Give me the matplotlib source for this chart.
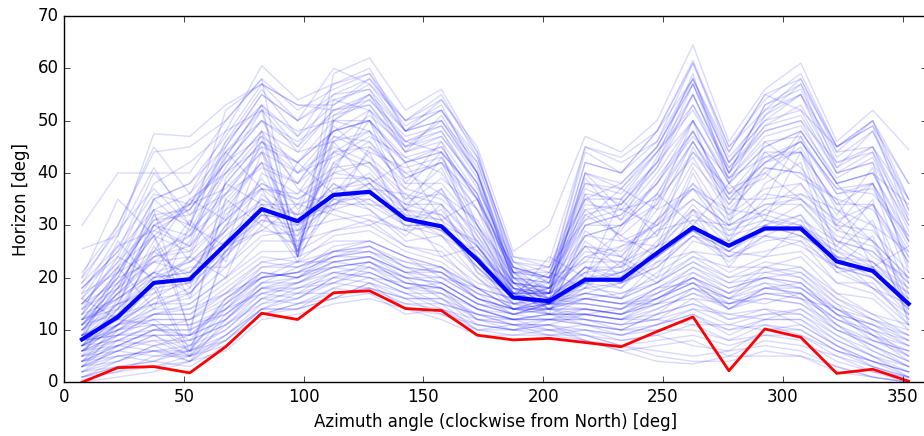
import numpy as np
import matplotlib
matplotlib.use("Agg")
import matplotlib.pyplot as plt

# azimuth sectors (centre of each 15 deg bin)
azimuth = np.arange(7.5, 360, 15)

# median horizon (thick blue) and the site of interest (red)
median_horizon = [8.2, 12.5, 19.0, 19.7, 26.4, 33.1, 30.8, 35.8, 36.4, 31.2, 29.8, 23.4,
                  16.2, 15.5, 19.6, 19.6, 24.7, 29.6, 26.1, 29.4, 29.4, 23.1, 21.3, 15.0]
site_horizon = [0.0, 2.8, 3.0, 1.8, 6.8, 13.2, 12.0, 17.1, 17.5, 14.1, 13.7, 9.0,
                8.1, 8.4, 7.6, 6.8, 9.7, 12.5, 2.2, 10.2, 8.6, 1.7, 2.5, 0.2]

# individual horizon profiles (faint lines), estimated by eye
low_sites = [
    [0, 1, 2, 4, 6, 12, 13, 15, 16, 14, 12, 9, 9, 10, 9, 7, 6, 5, 6, 7, 6, 3, 1, 0],
    [1, 3, 3, 5, 9, 14, 14, 18, 17, 15, 15, 10, 10, 9, 8, 7, 8, 9, 7, 9, 8, 4, 2, 0],
    [2, 4, 6, 5, 8, 13, 15, 16, 19, 17, 14, 12, 11, 11, 9, 8, 9, 7, 6, 10, 11, 7, 3, 1],
    [3, 6, 5, 6, 10, 16, 17, 19, 18, 16, 16, 11, 10, 12, 11, 10, 10, 12, 10, 11, 9, 6, 4, 2],
    [1, 4, 7, 4, 9, 15, 16, 20, 21, 18, 15, 13, 12, 10, 10, 9, 11, 13, 9, 12, 12, 8, 5, 1],
    [4, 5, 6, 7, 12, 17, 16, 19, 22, 19, 18, 12, 11, 12, 12, 11, 12, 11, 11, 13, 13, 9, 6, 3],
    [2, 7, 8, 8, 11, 15, 18, 21, 20, 17, 17, 14, 12, 13, 11, 10, 13, 15, 12, 14, 11, 7, 4, 2],
    [5, 6, 9, 5, 13, 18, 18, 20, 23, 20, 16, 13, 11, 11, 13, 12, 12, 14, 13, 12, 14, 10, 7, 4],
    [3, 8, 7, 9, 12, 19, 20, 22, 21, 18, 19, 15, 13, 14, 12, 11, 14, 17, 14, 16, 15, 11, 6, 3],
    [6, 7, 10, 10, 14, 17, 19, 23, 24, 21, 18, 14, 12, 12, 14, 13, 15, 16, 15, 17, 16, 10, 8, 5],
    [4, 9, 9, 6, 15, 20, 21, 22, 23, 20, 20, 16, 14, 13, 13, 12, 13, 18, 16, 15, 17, 12, 9, 4],
    [7, 8, 11, 11, 13, 19, 22, 24, 25, 22, 19, 15, 13, 15, 15, 14, 16, 19, 14, 18, 18, 13, 8, 6],
    [5, 10, 12, 8, 16, 21, 20, 25, 26, 23, 21, 17, 15, 14, 14, 13, 17, 20, 17, 19, 16, 14, 10, 5],
    [8, 9, 10, 12, 15, 22, 23, 23, 24, 21, 22, 16, 13, 14, 16, 15, 15, 21, 18, 20, 19, 13, 11, 7],
    [6, 11, 13, 13, 17, 20, 21, 26, 27, 24, 20, 18, 14, 16, 15, 14, 18, 19, 16, 21, 20, 15, 9, 6],
    [2, 3, 4, 6, 8, 14, 17, 17, 18, 16, 13, 10, 11, 9, 10, 9, 11, 14, 11, 10, 10, 6, 3, 0.5],
    [1, 2, 5, 5, 7, 13, 14, 16, 17, 13, 14, 11, 10, 11, 8, 6, 7, 8, 5, 8, 7, 5, 2, 1],
    [3, 5, 4, 7, 10, 16, 15, 18, 20, 17, 15, 13, 11, 10, 11, 9, 10, 10, 8, 11, 10, 6, 4, 1],
    [4, 6, 8, 5, 11, 16, 19, 21, 20, 19, 17, 12, 12, 13, 12, 11, 12, 16, 12, 13, 14, 9, 5, 2],
    [7, 10, 11, 11, 14, 21, 20, 24, 26, 22, 21, 16, 14, 14, 13, 14, 17, 22, 19, 20, 18, 14, 10, 7],
    [9, 11, 12, 12, 16, 20, 23, 25, 25, 23, 22, 17, 13, 15, 16, 15, 16, 20, 17, 22, 21, 16, 12, 8],
    [5, 7, 6, 4, 12, 18, 17, 21, 22, 18, 18, 14, 12, 12, 12, 10, 13, 15, 13, 14, 13, 8, 5, 3],
    [2, 5, 6, 6, 9, 14, 16, 20, 19, 16, 16, 12, 10, 11, 10, 8, 9, 11, 8, 9, 9, 5, 3, 1],
    [3, 4, 7, 8, 11, 17, 18, 19, 21, 18, 17, 13, 12, 12, 11, 10, 11, 13, 10, 12, 12, 7, 4, 2],
    [6, 8, 9, 9, 12, 18, 19, 22, 23, 19, 18, 14, 12, 13, 13, 12, 14, 17, 15, 16, 15, 10, 7, 4],
    [1, 3, 4, 3, 7, 13, 15, 17, 18, 15, 14, 10, 9, 9, 9, 7, 5, 4, 4, 6, 5, 3, 1, 0],
    [0.5, 2, 3, 4, 8, 14, 14, 16, 19, 14, 13, 11, 10, 10, 8, 6, 4, 3.5, 5, 5, 5, 2, 1, 0],
    [8, 9, 13, 14, 17, 23, 22, 25, 27, 24, 22, 18, 14, 14, 17, 16, 19, 23, 20, 21, 22, 17, 13, 9],
    [4, 7, 10, 10, 13, 18, 20, 23, 22, 20, 19, 15, 13, 12, 13, 12, 15, 18, 14, 17, 17, 11, 7, 3],
    [7, 12, 11, 6, 14, 20, 21, 24, 24, 21, 21, 16, 14, 15, 14, 13, 16, 19, 16, 18, 19, 13, 9, 5],
]

moderate_sites = [
    [8, 13, 15, 18, 26, 29, 28, 35, 33, 27, 28, 20, 15, 16, 17, 19, 22, 28, 23, 28, 26, 22, 18, 13],
    [10, 14, 21, 17, 25, 33, 24, 34, 38, 31, 29, 24, 16, 15, 21, 18, 26, 29, 27, 28, 31, 21, 22, 15],
    [6, 11, 16, 20, 25, 34, 32, 34, 36, 32, 28, 24, 17, 15, 19, 21, 24, 29, 25, 30, 28, 24, 22, 14],
    [12, 14, 20, 23, 27, 35, 30, 38, 34, 33, 31, 21, 17, 17, 20, 21, 25, 33, 26, 29, 32, 22, 21, 16],
    [9, 15, 18, 5, 26, 31, 30, 35, 38, 33, 29, 25, 18, 16, 22, 19, 23, 28, 26, 31, 29, 25, 23, 17],
    [7, 11, 19, 22, 22, 30, 26, 33, 31, 29, 30, 23, 14, 14, 19, 16, 23, 25, 24, 25, 27, 19, 19, 11],
    [11, 17, 21, 19, 30, 34, 34, 36, 40, 33, 32, 25, 17, 18, 23, 23, 26, 34, 27, 33, 31, 27, 23, 18],
    [13, 16, 21, 23, 29, 37, 25, 40, 39, 34, 32, 26, 18, 16, 22, 22, 29, 31, 30, 32, 30, 25, 21, 15],
    [8, 10, 15, 16, 22, 28, 29, 31, 32, 29, 26, 20, 14, 15, 17, 16, 21, 25, 21, 24, 25, 19, 17, 11],
    [10, 15, 17, 19, 27, 32, 31, 34, 37, 30, 30, 22, 16, 15, 19, 21, 24, 31, 25, 30, 28, 24, 20, 15],
    [14, 18, 23, 24, 31, 38, 35, 40, 42, 36, 34, 27, 19, 18, 24, 23, 29, 35, 30, 34, 34, 27, 25, 19],
    [6, 9, 13, 15, 20, 27, 27, 29, 31, 26, 25, 18, 14, 13, 16, 17, 19, 24, 22, 22, 24, 17, 16, 10],
    [9, 13, 19, 6, 25, 32, 31, 33, 35, 30, 30, 22, 16, 17, 19, 18, 24, 29, 24, 28, 27, 22, 20, 13],
    [12, 16, 20, 21, 28, 33, 23, 37, 38, 31, 33, 24, 17, 17, 21, 22, 26, 32, 28, 30, 32, 24, 23, 16],
    [7, 11, 16, 17, 24, 31, 29, 34, 34, 30, 28, 22, 15, 15, 18, 19, 22, 28, 24, 27, 28, 21, 18, 12],
    [11, 13, 20, 21, 29, 35, 32, 37, 39, 32, 31, 26, 18, 16, 22, 20, 27, 33, 29, 31, 30, 26, 22, 17],
    [9, 12, 18, 19, 24, 32, 27, 35, 35, 31, 29, 23, 16, 15, 20, 19, 24, 29, 25, 29, 29, 22, 20, 14],
    [15, 19, 24, 26, 33, 37, 36, 41, 42, 35, 36, 28, 19, 18, 26, 24, 31, 37, 31, 36, 35, 29, 27, 20],
]

# sites with a broken, irregular skyline
rugged_sites = [
    [9, 22, 14, 30, 26, 44, 33, 40, 52, 38, 46, 30, 16, 24, 20, 35, 28, 45, 33, 40, 35, 30, 24, 20],
    [16, 12, 26, 18, 35, 30, 42, 36, 44, 29, 37, 24, 19, 14, 27, 22, 36, 30, 38, 31, 44, 25, 31, 14],
    [5, 16, 21, 31, 23, 40, 36, 46, 38, 42, 31, 35, 18, 17, 33, 28, 24, 40, 27, 38, 42, 22, 28, 12],
    [13, 27, 19, 24, 38, 34, 28, 44, 48, 35, 41, 28, 17, 21, 18, 30, 34, 50, 31, 44, 39, 35, 22, 26],
    [7, 14, 32, 23, 29, 48, 37, 33, 45, 40, 36, 31, 20, 15, 26, 20, 31, 44, 35, 35, 47, 29, 34, 17],
    [18, 24, 20, 27, 44, 37, 32, 49, 43, 37, 44, 26, 16, 18, 36, 27, 26, 41, 30, 46, 41, 32, 41, 22],
    [11, 19, 28, 16, 33, 42, 31, 41, 50, 34, 39, 33, 22, 20, 23, 29, 39, 48, 36, 39, 48, 38, 30, 16],
    [4, 11, 17, 24, 20, 36, 30, 38, 33, 28, 34, 21, 15, 13, 29, 24, 20, 33, 22, 30, 34, 26, 35, 11],
    [15, 23, 35, 29, 41, 52, 44, 46, 51, 45, 48, 37, 23, 19, 37, 34, 41, 55, 40, 49, 51, 40, 42, 21],
    [10, 17, 23, 21, 30, 39, 29, 42, 37, 36, 30, 27, 15, 16, 21, 26, 30, 37, 33, 32, 36, 33, 27, 13],
    [20, 29, 37, 30, 46, 53, 25, 51, 55, 44, 51, 40, 19, 17, 39, 31, 43, 59, 38, 51, 55, 40, 44, 27],
    [3, 10, 14, 17, 25, 29, 34, 32, 30, 33, 24, 26, 17, 14, 18, 23, 19, 27, 25, 24, 30, 24, 18, 15],
    [8, 21, 25, 35, 31, 46, 40, 45, 42, 33, 43, 30, 21, 22, 31, 37, 33, 46, 34, 43, 44, 30, 38, 19],
    [12, 15, 30, 26, 36, 41, 38, 47, 46, 39, 42, 29, 18, 15, 22, 21, 35, 43, 32, 41, 40, 35, 33, 23],
]

# sites with high ground mostly to the east
east_sites = [
    [10, 18, 30, 33, 42, 50, 45, 52, 53, 45, 47, 38, 18, 13, 14, 13, 15, 18, 15, 17, 16, 12, 10, 8],
    [8, 15, 27, 35, 40, 48, 24, 50, 55, 48, 50, 40, 19, 14, 16, 15, 17, 20, 16, 19, 18, 13, 11, 9],
    [12, 20, 33, 30, 45, 55, 50, 54, 52, 46, 44, 36, 17, 15, 15, 14, 18, 22, 18, 20, 21, 15, 12, 10],
    [6, 13, 25, 28, 38, 46, 42, 48, 50, 42, 45, 35, 16, 13, 13, 12, 16, 19, 14, 18, 17, 11, 8, 6],
    [9, 17, 29, 26, 43, 53, 47, 57, 59, 48, 52, 41, 20, 15, 17, 16, 19, 23, 19, 22, 20, 14, 12, 9],
    [11, 16, 35, 38, 47, 57, 53, 53, 57, 50, 54, 44, 21, 16, 18, 17, 20, 24, 20, 23, 22, 16, 13, 11],
    [7, 14, 24, 29, 36, 44, 25, 46, 48, 40, 42, 33, 17, 14, 14, 13, 16, 20, 15, 18, 17, 12, 9, 7],
    [13, 21, 31, 34, 44, 52, 48, 50, 54, 47, 49, 39, 19, 16, 16, 15, 18, 21, 17, 20, 19, 14, 11, 8],
]

# sites with high ground mostly to the west
west_sites = [
    [6, 9, 12, 12, 17, 22, 22, 25, 26, 22, 21, 17, 15, 17, 40, 38, 45, 57, 42, 50, 55, 44, 45, 30],
    [4, 7, 10, 9, 15, 20, 21, 24, 25, 21, 20, 16, 14, 16, 35, 35, 42, 55, 40, 53, 57, 41, 48, 33],
    [7, 10, 13, 13, 18, 23, 24, 27, 27, 24, 22, 18, 16, 18, 42, 40, 48, 58, 44, 55, 52, 45, 50, 35],
    [5, 8, 11, 7, 16, 21, 20, 23, 24, 20, 19, 15, 14, 15, 30, 32, 38, 50, 38, 45, 48, 38, 40, 27],
    [8, 11, 14, 14, 19, 24, 23, 28, 29, 25, 23, 18, 16, 20, 45, 42, 46, 61, 45, 52, 58, 45, 49, 38],
    [3, 6, 9, 9, 14, 19, 19, 22, 23, 19, 18, 14, 13, 15, 28, 30, 36, 48, 35, 42, 46, 36, 38, 24],
    [9, 12, 15, 15, 20, 25, 25, 29, 30, 26, 24, 19, 17, 19, 38, 37, 44, 53, 41, 48, 50, 42, 44, 31],
]

upper_sites = [
    [12, 18, 25, 20, 32, 38, 34, 44, 41, 33, 37, 27, 18, 17, 24, 26, 28, 38, 29, 33, 38, 27, 25, 18],
    [14, 20, 23, 28, 34, 42, 24, 42, 46, 37, 35, 29, 19, 17, 25, 24, 33, 37, 28, 35, 36, 31, 27, 20],
    [16, 23, 30, 34, 37, 44, 40, 43, 47, 43, 40, 30, 20, 19, 28, 27, 30, 42, 34, 41, 40, 31, 34, 23],
    [17, 21, 31, 32, 40, 45, 25, 47, 44, 41, 43, 33, 21, 20, 32, 28, 34, 44, 37, 40, 45, 33, 30, 25],
    [18, 25, 33, 9, 39, 47, 42, 48, 50, 39, 42, 35, 22, 20, 31, 33, 35, 46, 36, 44, 44, 34, 38, 27],
    [19, 26, 29, 33, 42, 47, 24, 50, 50, 43, 45, 35, 21, 21, 35, 31, 38, 47, 39, 43, 46, 37, 36, 28],
    [11, 17, 24, 25, 31, 37, 35, 39, 39, 34, 34, 26, 17, 17, 40, 33, 30, 35, 30, 34, 35, 28, 26, 19],
    [15, 22, 28, 10, 35, 42, 38, 44, 45, 38, 38, 30, 19, 18, 26, 25, 31, 38, 32, 37, 38, 30, 29, 21],
]

high_sites = [
    [30, 40, 40, 32, 36, 45, 42, 50, 48, 42, 44, 35, 22, 20, 30, 32, 40, 50, 38, 45, 48, 38, 40, 34],
    [25.5, 28, 47.5, 47, 53, 57, 50, 55, 58, 50, 52, 42, 23, 22, 35, 38, 45, 58, 42, 52, 55, 42, 45, 35],
    [21, 30, 45, 36, 48, 60.5, 54, 57, 60, 48, 50, 40, 20, 19, 42, 40, 48, 61, 44, 55, 58, 44, 50, 33],
    [18, 25, 40, 40, 50, 58, 24, 59, 62, 52, 56, 44, 23, 21, 33, 34, 42, 57, 42, 50, 52, 40, 42, 30],
    [15, 22, 35, 38, 45, 55, 50, 60, 57, 48, 54, 45, 25, 30, 47, 44, 50, 64.5, 46, 56, 61, 46, 52, 44.5],
    [17, 28, 41, 30, 52, 57, 53, 52, 55, 46, 48, 38, 21, 20, 44, 40, 46, 58, 43, 51, 57, 45, 49, 31],
    [12, 20, 32, 33, 43, 53, 45, 55, 56, 45, 50, 42, 22, 17, 36, 35, 44, 52, 40, 48, 50, 38, 40, 28],
    [20, 35, 28, 34, 42, 50, 40, 48, 52, 44, 46, 36, 20, 18, 30, 30, 38, 48, 36, 42, 46, 37, 38, 26],
    [10, 18, 30, 28, 40, 48, 44, 52, 54, 46, 49, 40, 21, 16, 32, 34, 42, 50, 39, 46, 47, 36, 37, 25],
    [14, 24, 38, 42, 48, 52, 26, 54, 56, 48, 52, 43, 24, 22, 38, 36, 44, 55, 41, 49, 53, 41, 45, 32],
    [16, 26, 36, 34, 46, 56, 47, 53, 58, 49, 53, 40, 22, 19, 40, 37, 45, 57, 40, 53, 56, 43, 48, 35],
    [19, 30, 44, 45, 50, 58, 52, 56, 59, 50, 55, 43, 24, 23, 45, 43, 48, 61.5, 45, 54, 59, 45, 50, 38],
    [11, 19, 28, 25, 38, 46, 38, 48, 50, 42, 44, 36, 20, 17, 28, 30, 36, 46, 35, 42, 44, 34, 34, 24],
    [13, 21, 33, 36, 44, 50, 46, 51, 53, 44, 47, 38, 21, 18, 34, 33, 41, 53, 39, 47, 49, 39, 43, 29],
]

plt.style.use("classic")
plt.rcParams["figure.facecolor"] = "white"
plt.rcParams["savefig.facecolor"] = "white"

fig = plt.figure(figsize=(9.24, 4.36), dpi=100)
# right spine falls just outside the canvas, as in the original
ax = fig.add_axes([64 / 924, 53.7 / 436, 862.6 / 924, 366.3 / 436])

for group in (low_sites, moderate_sites, rugged_sites, east_sites, west_sites,
              upper_sites, high_sites):
    for profile in group:
        ax.plot(azimuth, profile, color="b", alpha=0.15, lw=1)

ax.plot(azimuth, median_horizon, color="b", lw=3)
ax.plot(azimuth, site_horizon, color="r", lw=2)

ax.set_xlim(0, 360)
ax.set_ylim(0, 70)
ax.set_xlabel("Azimuth angle (clockwise from North) [deg]")
ax.set_ylabel("Horizon [deg]")

fig.savefig("out.png", dpi=100)
